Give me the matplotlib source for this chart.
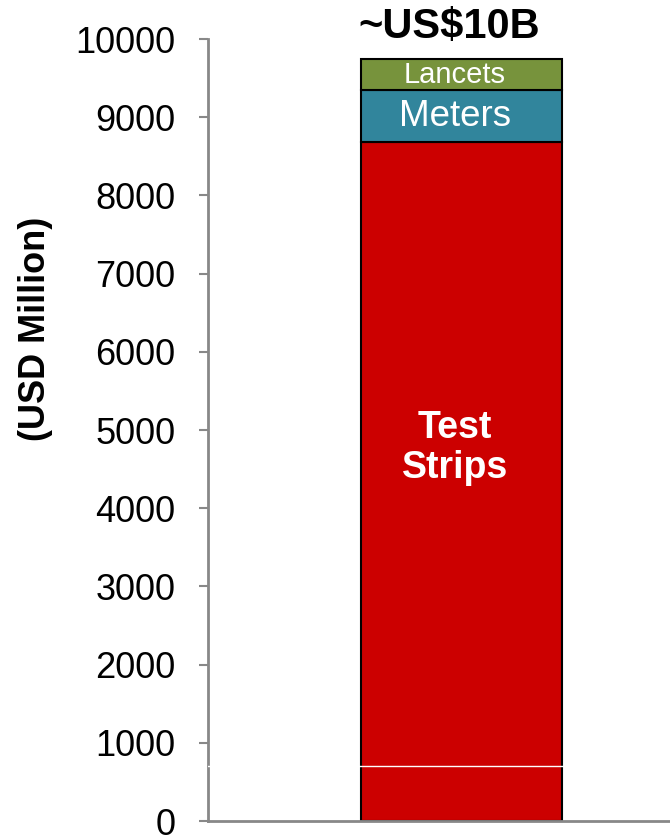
import matplotlib.pyplot as plt

plt.rcParams["font.family"] = ["Liberation Sans", "DejaVu Sans"]

# stacked segments, bottom to top (USD million)
segments = ["Test\nStrips", "Meters", "Lancets"]
values = [8680, 670, 390]
colors = ["#CC0000", "#31859C", "#77933C"]
yticks = list(range(0, 10001, 1000))
total_label = "~US$10B"


def main() -> None:
    fig = plt.figure(figsize=(6.7, 8.36), dpi=100)
    ax = fig.add_axes([0.3104, 0.0179, 0.6896, 0.9354])

    bar_x = 0.549
    bar_w = 0.435
    text_x = 0.534

    # label size / weight / relative height inside each segment
    label_style = [(27, "bold", 0.55), (26.5, "normal", 0.5), (21, "normal", 0.5)]

    bottom = 0
    for name, val, col, (fs, fw, rel) in zip(segments, values, colors, label_style):
        ax.bar(bar_x, val, width=bar_w, bottom=bottom, color=col,
               edgecolor="black", linewidth=1.5, zorder=2)
        ax.text(text_x, bottom + val * rel, name, color="white", fontsize=fs,
                fontweight=fw, ha="center", va="center", linespacing=1.15, zorder=4)
        bottom += val

    # thin white line artefact across the plot
    ax.axhline(700, color="white", linewidth=1, zorder=5)

    ax.text(0.5216, bottom + 420, total_label, fontsize=30, fontweight="bold",
            ha="center", va="center", clip_on=False)

    ax.set_xlim(0, 1)
    ax.set_ylim(0, 10000)
    ax.set_yticks(yticks)
    ax.set_xticks([])
    ax.tick_params(axis="y", direction="out", length=6.5, width=1.5,
                   color="#888888", labelsize=26, pad=17)
    for side in ["top", "right"]:
        ax.spines[side].set_visible(False)
    for side in ["left", "bottom"]:
        ax.spines[side].set_color("#888888")
        ax.spines[side].set_linewidth(2)
        ax.spines[side].set_zorder(3)

    ax.set_ylabel("(USD Million)", fontsize=26, fontweight="bold")
    ax.yaxis.set_label_coords(-0.335, 0.629)

    fig.savefig("out.png", dpi=100)
    plt.close(fig)


if __name__ == "__main__":
    main()
